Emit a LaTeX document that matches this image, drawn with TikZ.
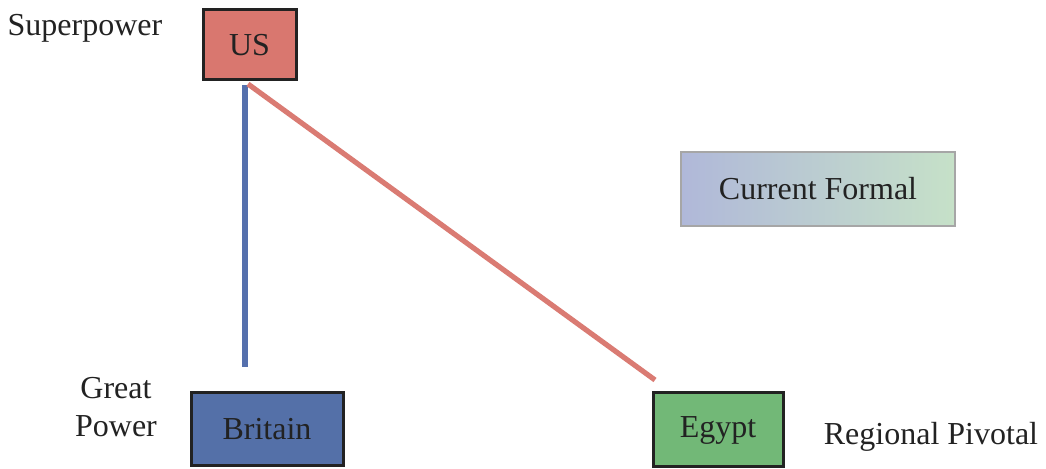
\documentclass[tikz,border=0pt]{standalone}
\usepackage{fontspec}
\setmainfont{Liberation Serif}
\definecolor{usred}{HTML}{D9776F}
\definecolor{linered}{HTML}{DA7B73}
\definecolor{brblue}{HTML}{5470A8}
\definecolor{lineblue}{HTML}{5570AD}
\definecolor{eggreen}{HTML}{72B877}
\definecolor{gradL}{HTML}{B0B8D9}
\definecolor{gradR}{HTML}{C6E1C8}
\definecolor{ink}{HTML}{222222}
\tikzset{
  country/.style={draw=ink, line width=1.5pt, text=ink, inner sep=0pt,
    font=\fontsize{16}{19}\selectfont},
  tier/.style={text=ink, font=\fontsize{16}{19}\selectfont, align=center, inner sep=0pt},
  tie/.style={line width=2.6pt}
}
\begin{document}
\begin{tikzpicture}[x=0.5pt,y=-0.5pt]
\useasboundingbox (0,0) rectangle (1046,469);
% countries
\node[country, fill=usred, minimum width=46.5pt, minimum height=35pt] (us) at (249.5,45) {US};
\node[country, fill=brblue, minimum width=76pt, minimum height=36.5pt] (britain) at (267,429.5) {Britain};
\node[country, fill=eggreen, minimum width=65pt, minimum height=37pt] (egypt) at (718,430) {Egypt};
% legend entry
\node[draw=gray!70, line width=1pt, left color=gradL, right color=gradR,
      minimum width=137pt, minimum height=37pt, text=ink,
      font=\fontsize{16}{19}\selectfont] (formal) at (818,189) {Current Formal};
% tier labels
\node[tier] (lsuper) at (85,28) {Superpower};
\node[tier] (lgreat) at (116,407) {Great\\Power};
\node[tier] (lregion) at (931,437) {Regional Pivotal};
% ties
\coordinate (bTop) at (245,85);
\coordinate (bEnd) at (245,367);
\coordinate (rTop) at (248,84);
\coordinate (rEnd) at (655,380);
\draw[tie, lineblue] (bTop) -- (bEnd);
\draw[tie, linered] (rTop) -- (rEnd);
\end{tikzpicture}
\end{document}
